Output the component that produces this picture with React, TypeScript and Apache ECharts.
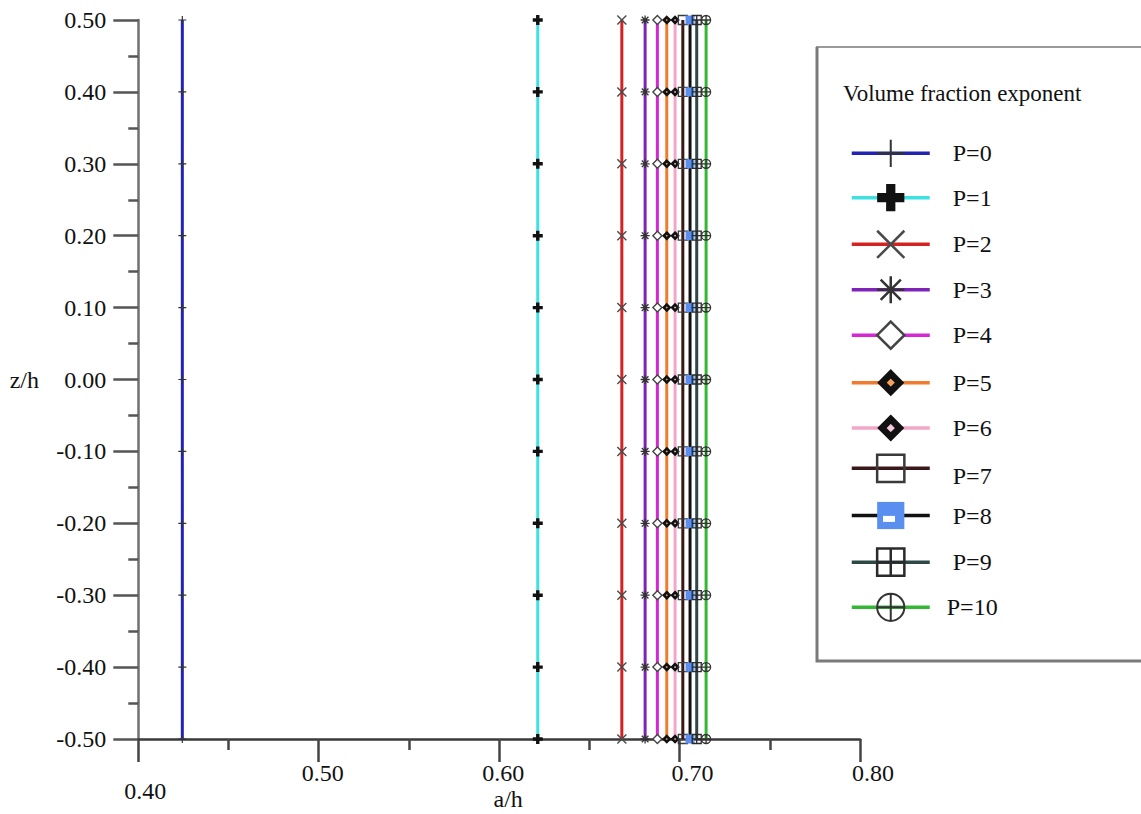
import { useEffect, useRef } from "react";
import * as echarts from "echarts";

// Volume fraction exponent of each curve
const exponents = ["P=0", "P=1", "P=2", "P=3", "P=4", "P=5", "P=6", "P=7", "P=8", "P=9", "P=10"];
// Normalised a/h value of each curve (constant through the thickness)
const aOverH = [0.4244, 0.6214, 0.668, 0.6809, 0.6877, 0.6929, 0.6975, 0.7018, 0.7058, 0.7095, 0.7147];
// Thickness stations z/h where the markers sit
const zStations = [-0.5, -0.4, -0.3, -0.2, -0.1, 0.0, 0.1, 0.2, 0.3, 0.4, 0.5];
// Axis ranges
const xRange = [0.4, 0.8];
const yRange = [-0.5, 0.5];

const FONT = "'Liberation Serif', 'Times New Roman', serif";

const lineColors = [
  "#2222b4", "#3ee0e0", "#d42222", "#7e22b8", "#d428d4", "#f07a2e",
  "#f2a6c8", "#3a1818", "#111111", "#2e4848", "#34b834",
];

// Marker outlines in a 10x10 box
const markerPaths = [
  "path://M0,5L10,5M5,0L5,10",
  "path://M3.3,0L6.7,0L6.7,3.3L10,3.3L10,6.7L6.7,6.7L6.7,10L3.3,10L3.3,6.7L0,6.7L0,3.3L3.3,3.3Z",
  "path://M0,0L10,10M10,0L0,10",
  "path://M5,0L5,10M0,5L10,5M1.3,1.3L8.7,8.7M8.7,1.3L1.3,8.7",
  "path://M5,0L10,5L5,10L0,5Z",
  "path://M0,0M10,10M5,1.76L8.24,5L5,8.24L1.76,5Z",
  "path://M0,0M10,10M5,1.76L8.24,5L5,8.24L1.76,5Z",
  "path://M0.3,0.3L9.7,0.3L9.7,9.7L0.3,9.7Z",
  "path://M0.2,0.6L9.8,0.6L9.8,9.4L0.2,9.4Z",
  "path://M0.3,0.3L9.7,0.3L9.7,9.7L0.3,9.7ZM5,0.3L5,9.7M0.3,5L9.7,5",
  "path://M0,5A5,5 0 1,0 10,5A5,5 0 1,0 0,5ZM5,0L5,10M0,5L10,5",
];
const markerFill = [
  "transparent", "#111111", "transparent", "transparent", "#ffffff", "#f5a25a",
  "#f6c8dc", "transparent", "#5a8ff0", "transparent", "transparent",
];
const markerStroke = [
  "#333333", "#111111", "#4a4a4a", "#333333", "#444444", "#111111",
  "#111111", "#3a3a3a", "#5a8ff0", "#2a2a2a", "#333333",
];
const plotMarkerWidth = [1.2, 0, 1.4, 1.3, 1.4, 2.6, 2.6, 1.3, 0, 1.3, 1.3];
const plotMarkerSize = [8, 10, 9, 9, 9, 9, 9, 9, 9, 9, 9];
const legendMarkerWidth = [2, 0, 2.5, 2.5, 2.5, 6.7, 6.7, 2.5, 0, 2.5, 2];

// Legend row layout
const LEGEND_FIRST_ROW = 155.7;
const LEGEND_ROW_STEP = 45.4;
const LEGEND_ICON_H = 34;
const LEGEND_ICON_W = 78;
const LEGEND_LEFT = 850;

export default function App() {
  const ref = useRef<HTMLDivElement>(null);

  useEffect(() => {
    if (!ref.current) return;
    const chart = echarts.init(ref.current, undefined, { renderer: "svg" });

    const series = exponents.map((name, i) => ({
      name,
      type: "line",
      data: zStations.map((z) => [aOverH[i], z]),
      symbol: markerPaths[i],
      symbolSize: plotMarkerSize[i],
      showAllSymbol: true,
      lineStyle: { color: lineColors[i], width: 3 },
      itemStyle: {
        color: markerFill[i],
        borderColor: markerStroke[i],
        borderWidth: plotMarkerWidth[i],
        borderJoin: "miter",
        borderMiterLimit: 10,
      },
      emphasis: { disabled: true },
      z: 2 + i,
    }));

    const tickFont = { fontFamily: FONT, fontSize: 24, color: "#111" };

    // one legend block per exponent so every row sits on its own line
    const legends = exponents.map((name, i) => ({
      orient: "vertical",
      left: LEGEND_LEFT,
      top: LEGEND_FIRST_ROW + LEGEND_ROW_STEP * i - LEGEND_ICON_H / 2 - (name === "P=7" ? 3 : 0),
      padding: 0,
      itemWidth: LEGEND_ICON_W,
      itemHeight: LEGEND_ICON_H,
      selectedMode: false,
      data: [
        {
          name,
          itemStyle: {
            color: markerFill[i],
            borderColor: markerStroke[i],
            borderWidth: legendMarkerWidth[i],
            borderJoin: "miter",
            borderMiterLimit: 10,
          },
          lineStyle: { color: lineColors[i], width: 3.5 },
        },
      ],
      formatter: (n: string) => {
        if (n === "P=7") return `{low|${n}}`;
        if (n === "P=10") return `{wide|${n}}`;
        return `{n|${n}}`;
      },
      textStyle: {
        ...tickFont,
        rich: {
          n: { ...tickFont, padding: [0, 0, 0, 18] },
          low: { ...tickFont, padding: [16, 0, 0, 18] },
          wide: { ...tickFont, padding: [0, 0, 0, 12] },
        },
      },
    }));

    const p8Row = LEGEND_FIRST_ROW + LEGEND_ROW_STEP * exponents.indexOf("P=8");

    const xLabel = (v: number) => {
      const s = v.toFixed(2);
      if (s === "0.40") return `{low|${s}}`;
      if (s === "0.70" || s === "0.80") return `{far|${s}}`;
      return `{n|${s}}`;
    };

    chart.setOption({
      animation: false,
      backgroundColor: "#ffffff",
      grid: {
        left: 138.3,
        right: 281,
        top: 20,
        bottom: 75,
        containLabel: false,
        outerBoundsMode: "none",
      },
      xAxis: {
        type: "value",
        min: xRange[0],
        max: xRange[1],
        interval: 0.1,
        name: "a/h",
        nameLocation: "middle",
        nameGap: 60,
        nameMoveOverlap: false,
        nameTextStyle: { ...tickFont, align: "center", verticalAlign: "middle", padding: [0, 0, 0, 18] },
        axisLine: { onZero: false, lineStyle: { color: "#3a3a3a", width: 2.5 } },
        axisTick: { length: 23, lineStyle: { color: "#444", width: 2.5 } },
        minorTick: { show: true, splitNumber: 2, length: 11, lineStyle: { color: "#444", width: 2.5 } },
        splitLine: { show: false },
        axisLabel: {
          ...tickFont,
          margin: 22,
          interval: 0,
          formatter: xLabel,
          rich: {
            n: { ...tickFont, padding: [0, 0, 0, 8] },
            low: { ...tickFont, padding: [18, 0, 0, 14] },
            far: { ...tickFont, padding: [0, 0, 0, 26] },
          },
        },
      },
      yAxis: {
        type: "value",
        min: yRange[0],
        max: yRange[1],
        interval: 0.1,
        name: "z/h",
        nameLocation: "middle",
        nameGap: 114,
        nameRotate: 0,
        nameMoveOverlap: false,
        nameTextStyle: { ...tickFont, align: "center", verticalAlign: "middle", padding: [14, 0, 0, 0] },
        axisLine: { onZero: false, lineStyle: { color: "#707070", width: 2.5 } },
        axisTick: { length: 25, lineStyle: { color: "#555", width: 2.5 } },
        minorTick: { show: true, splitNumber: 2, length: 10, lineStyle: { color: "#555", width: 2.5 } },
        splitLine: { show: false },
        axisLabel: {
          ...tickFont,
          margin: 32,
          formatter: (v: number) => v.toFixed(2),
        },
      },
      legend: legends,
      graphic: [
        {
          type: "rect",
          z: -1,
          shape: { x: 817, y: 47, width: 340, height: 614 },
          style: { fill: "#ffffff", stroke: "#9a9a9a", lineWidth: 2 },
        },
        {
          type: "polyline",
          z: 0,
          shape: { points: [[817, 47], [817, 661], [1141, 661]] },
          style: { fill: "none", stroke: "#7a7a7a", lineWidth: 3 },
        },
        {
          type: "text",
          x: 843,
          y: 93,
          style: {
            text: "Volume fraction exponent",
            fontFamily: FONT,
            fontSize: 23,
            fill: "#111",
            align: "left",
            verticalAlign: "middle",
          },
        },
        {
          // white bar inside the P=8 legend marker
          type: "rect",
          z: 20,
          shape: { x: LEGEND_LEFT + LEGEND_ICON_W / 2 - 6, y: p8Row - 3, width: 12, height: 6 },
          style: { fill: "#ffffff" },
        },
      ],
      series,
    });

    return () => chart.dispose();
  }, []);

  return (
    <div
      ref={ref}
      style={{ position: "absolute", left: 0, top: 0, width: 1141, height: 814, background: "#fff" }}
    />
  );
}
